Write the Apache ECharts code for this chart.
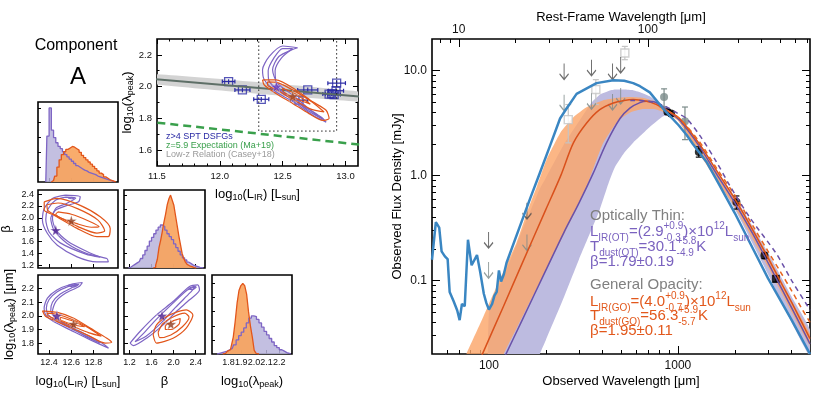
<!DOCTYPE html>
<html>
<head>
<meta charset="utf-8">
<script src="https://cdn.jsdelivr.net/npm/echarts@6/dist/echarts.min.js"></script>
<style>
html, body { margin: 0; padding: 0; background: #fff; }
#chart { width: 826px; height: 394px; }
</style>
</head>
<body>
<div id="chart"></div>
<script>
const FONT = '"Liberation Sans", Arial, sans-serif'
const zSource = 5.93 // 1+z sets the rest-frame axis

// ---- SED panel: observed wavelength [um], flux density [mJy]
const tplWave = [50, 52.4, 54.6, 56.2, 58.5, 60.5, 62, 65, 68, 70, 72, 74.5, 77.5, 81, 86.5, 90, 94, 97, 100, 104, 107, 110, 113, 116, 120, 124, 146, 165, 186, 210, 238, 252, 291, 371, 455, 520, 580, 630, 710, 835, 1012, 1110, 1200, 1418, 1668, 2000, 2500, 3000, 4000, 5000]
const tplFlux = [0.158, 0.36, 0.32, 0.19, 0.17, 0.16, 0.078, 0.064, 0.052, 0.042, 0.06, 0.057, 0.245, 0.14, 0.175, 0.12, 0.075, 0.061, 0.053, 0.06, 0.072, 0.078, 0.125, 0.098, 0.115, 0.148, 0.33, 0.6, 1.06, 1.9, 3.5, 4.1, 6.0, 7.6, 8.1, 8.0, 7.6, 7.1, 6.2, 4.35, 3.0, 2.45, 2.0, 1.35, 0.8, 0.44, 0.2, 0.105, 0.042, 0.02]

const goWave = [88, 93, 120, 150, 200, 240, 280, 329, 386, 455, 520, 580, 682, 760, 835, 900, 1025, 1300, 1600, 2000, 2500, 3000, 3500, 4000, 5000]
const goFlux = [0.016, 0.0205, 0.058, 0.146, 0.474, 1.0, 2.05, 3.17, 4.25, 4.92, 5.2, 5.3, 5.1, 4.8, 4.4, 4.05, 3.47, 2.0, 1.12, 0.6, 0.3, 0.165, 0.097, 0.062, 0.028]
const otWave = [120, 124, 150, 200, 250, 300, 356, 419, 494, 557, 630, 682, 760, 835, 900, 1025, 1300, 1600, 2000, 2500, 3000, 3500, 4000, 5000]
const otFlux = [0.018, 0.0205, 0.042, 0.125, 0.29, 0.55, 1.05, 2.05, 3.5, 4.4, 4.95, 5.1, 5.0, 4.5, 4.05, 3.35, 1.9, 1.04, 0.55, 0.275, 0.148, 0.087, 0.055, 0.025]
const goDashWave = [800, 1000, 1300, 1600, 2000, 2500, 3000, 3500, 4000, 4500, 5000]
const goDashFlux = [4.55, 3.6, 2.1, 1.18, 0.65, 0.33, 0.19, 0.12, 0.08, 0.055, 0.04]
const otDashWave = [560, 700, 850, 1000, 1110, 1308, 1600, 1884, 2400, 3320, 4000, 4860, 5000]
const otDashFlux = [5.2, 5.1, 4.6, 3.9, 3.5, 2.4, 1.35, 0.8, 0.4, 0.18, 0.1, 0.057, 0.052]

const goBandWave = [70, 76, 90, 100, 120, 140, 161, 180, 202, 240, 280, 330, 400, 480, 560, 650, 750, 850, 1000, 1500, 2000, 3000, 4000, 5000]
const goBandHi = [0.014, 0.02, 0.039, 0.06, 0.125, 0.23, 0.474, 0.8, 1.42, 2.6, 3.6, 4.5, 5.2, 5.5, 5.6, 5.5, 5.1, 4.5, 3.65, 1.28, 0.62, 0.175, 0.064, 0.031]
const goBandLo = [0.002, 0.003, 0.005, 0.008, 0.02, 0.035, 0.058, 0.086, 0.13, 0.24, 0.42, 0.8, 2.0, 3.3, 4.0, 4.3, 4.3, 4.0, 3.35, 1.08, 0.5, 0.135, 0.05, 0.024]
const otBandWave = [100, 120, 150, 186, 200, 250, 300, 350, 386, 430, 464, 520, 580, 650, 710, 835, 900, 1000, 1500, 2000, 3000, 4000, 5000]
const otBandHi = [0.05, 0.11, 0.3, 0.75, 0.95, 2.0, 3.3, 5.0, 5.9, 6.4, 6.6, 6.6, 6.5, 6.1, 5.7, 4.7, 4.25, 3.65, 1.3, 0.63, 0.185, 0.07, 0.034]
const otBandLo = [0.001, 0.003, 0.008, 0.02, 0.027, 0.07, 0.16, 0.31, 0.474, 0.85, 1.2, 1.65, 2.06, 2.5, 2.9, 3.67, 3.8, 3.4, 1.1, 0.48, 0.115, 0.04, 0.019]

const ptWave = [880, 920, 1290, 2040, 2870]
const ptFlux = [4.05, 3.9, 1.68, 0.56, 0.173]
const ptLo = [3.85, 3.7, 1.5, 0.48, 0.162]
const ptHi = [4.25, 4.1, 1.88, 0.64, 0.184]
const sqWave = [3300]
const sqFlux = [0.104]
const sqLo = [0.097]
const sqHi = [0.111]
const grayWave = [845, 1090]
const grayFlux = [5.6, 3.29]
const grayLo = [4.5, 2.2]
const grayHi = [6.7, 4.5]
const openWave = [263, 368, 524]
const openFlux = [3.41, 6.6, 14.7]
const openLo = [2.05, 4.75, 12.7]
const openHi = [4.75, 8.2, 17.0]
const limWave = [99.6, 159, 250, 349, 451, 498]
const limDark = [0.29, 0.55, 11.7, 12.7, 11.7, 13.5]
const limGray = [0.15, 0.275, 5.9, 6.1, 6.0, 6.84]

// ---- inset: log LIR vs log lambda_peak
const dsfgLir = [12.07, 12.18, 12.33, 12.63, 12.70, 12.87, 12.89, 12.91, 12.925, 12.93]
const dsfgLam = [2.032, 1.979, 1.92, 1.915, 1.979, 1.953, 1.955, 1.95, 1.974, 2.022]
const dsfgLirErr = [0.05, 0.06, 0.06, 0.07, 0.08, 0.05, 0.05, 0.05, 0.06, 0.07]
const dsfgLamErr = [0.015, 0.015, 0.015, 0.02, 0.015, 0.015, 0.015, 0.015, 0.02, 0.02]
const caseyLir = [11.4, 13.2]
const caseyLam = [2.052, 1.931]
const caseyLo = [2.022, 1.901]
const caseyHi = [2.082, 1.961]
const maLir = [11.4, 13.2]
const maLam = [1.782, 1.627]
const boxLir = [12.31, 12.31, 12.93, 12.93]
const boxLam = [2.31, 1.72, 1.72, 2.31]
const insOt1 = [[12.62, 2.245], [12.5, 2.256], [12.394, 2.19], [12.34, 2.106], [12.354, 2.043], [12.447, 1.968], [12.606, 1.894], [12.74, 1.819], [12.846, 1.776], [12.82, 1.80], [12.71, 1.86], [12.58, 1.947], [12.46, 2.02], [12.42, 2.106], [12.47, 2.19], [12.58, 2.234], [12.62, 2.245]]
const insOt2 = [[12.58, 2.24], [12.5, 2.24], [12.43, 2.18], [12.385, 2.1], [12.39, 2.04], [12.46, 1.98], [12.6, 1.91], [12.74, 1.84], [12.83, 1.79], [12.7, 1.85], [12.57, 1.93], [12.46, 2.0], [12.44, 2.1], [12.49, 2.18], [12.58, 2.24]]
const insGo1 = [[12.34, 2.043], [12.447, 2.043], [12.606, 1.979], [12.74, 1.904], [12.846, 1.851], [12.87, 1.80], [12.82, 1.787], [12.71, 1.83], [12.58, 1.894], [12.447, 1.957], [12.354, 2.01], [12.34, 2.043]]
const insGo2 = [[12.38, 2.03], [12.46, 2.025], [12.6, 1.97], [12.74, 1.9], [12.83, 1.84], [12.72, 1.86], [12.58, 1.92], [12.45, 1.98], [12.38, 2.01], [12.38, 2.03]]
const insGo3 = [[12.5, 1.99], [12.6, 1.955], [12.72, 1.89], [12.62, 1.92], [12.5, 1.975], [12.5, 1.99]]
const insStarOt = [[12.45, 2.0]]
const insStarGo = [[12.58, 1.94]]

// ---- corner plot
const otLirX = [12.37, 12.39, 12.41, 12.43, 12.45, 12.47, 12.49, 12.51, 12.53, 12.55, 12.57, 12.59, 12.61, 12.63, 12.65, 12.67, 12.69, 12.71, 12.73, 12.75, 12.77, 12.79, 12.81, 12.83, 12.85, 12.87, 12.89, 12.91, 12.93, 12.95, 12.97, 12.99]
const otLirN = [0, 0.62, 1.0, 0.7, 0.6, 0.53, 0.48, 0.45, 0.41, 0.37, 0.34, 0.31, 0.28, 0.25, 0.22, 0.2, 0.18, 0.16, 0.15, 0.13, 0.12, 0.11, 0.1, 0.08, 0.07, 0.06, 0.05, 0.04, 0.03, 0.02, 0.01, 0]
const goLirX = [12.42, 12.44, 12.46, 12.48, 12.50, 12.52, 12.54, 12.56, 12.58, 12.60, 12.62, 12.64, 12.66, 12.68, 12.70, 12.72, 12.74, 12.76, 12.78, 12.80, 12.82, 12.84, 12.86, 12.88, 12.90, 12.92, 12.94, 12.96, 12.98, 13.00]
const goLirN = [0, 0.02, 0.08, 0.2, 0.3, 0.37, 0.41, 0.44, 0.46, 0.48, 0.47, 0.45, 0.43, 0.4, 0.36, 0.33, 0.3, 0.27, 0.24, 0.21, 0.18, 0.15, 0.12, 0.1, 0.07, 0.05, 0.03, 0.02, 0.01, 0]
const otBetaX = [1.18, 1.22, 1.26, 1.30, 1.34, 1.38, 1.42, 1.46, 1.50, 1.54, 1.58, 1.62, 1.66, 1.70, 1.74, 1.78, 1.82, 1.86, 1.90, 1.94, 1.98, 2.02, 2.06, 2.10, 2.14, 2.18, 2.22, 2.26, 2.30, 2.34, 2.38, 2.42, 2.46, 2.50, 2.54]
const otBetaN = [0, 0.01, 0.03, 0.05, 0.07, 0.09, 0.13, 0.18, 0.24, 0.3, 0.37, 0.42, 0.47, 0.52, 0.56, 0.59, 0.57, 0.52, 0.47, 0.43, 0.39, 0.33, 0.28, 0.23, 0.18, 0.14, 0.11, 0.08, 0.06, 0.04, 0.03, 0.02, 0.01, 0.005, 0]
const goBetaX = [1.63, 1.66, 1.69, 1.72, 1.75, 1.78, 1.81, 1.84, 1.87, 1.90, 1.93, 1.96, 1.99, 2.02, 2.05, 2.08, 2.11, 2.14, 2.17, 2.20, 2.23, 2.26, 2.29, 2.32, 2.35, 2.38, 2.41]
const goBetaN = [0, 0.01, 0.04, 0.12, 0.28, 0.38, 0.5, 0.63, 0.74, 0.87, 0.95, 1.0, 0.93, 0.86, 0.72, 0.58, 0.44, 0.32, 0.2, 0.13, 0.08, 0.05, 0.03, 0.02, 0.01, 0.005, 0]
const otLamX = [1.71, 1.73, 1.75, 1.77, 1.79, 1.81, 1.83, 1.85, 1.87, 1.89, 1.91, 1.93, 1.95, 1.97, 1.99, 2.01, 2.03, 2.05, 2.07, 2.09, 2.11, 2.13, 2.15, 2.17, 2.19, 2.21, 2.23, 2.25, 2.27, 2.29]
const otLamN = [0, 0.01, 0.02, 0.03, 0.04, 0.06, 0.08, 0.13, 0.2, 0.26, 0.31, 0.37, 0.44, 0.51, 0.54, 0.53, 0.49, 0.44, 0.38, 0.32, 0.27, 0.22, 0.17, 0.12, 0.09, 0.06, 0.04, 0.02, 0.01, 0]
const goLamX = [1.755, 1.77, 1.785, 1.80, 1.815, 1.83, 1.845, 1.86, 1.875, 1.89, 1.905, 1.92, 1.935, 1.95, 1.965, 1.98, 1.995, 2.01, 2.025, 2.04]
const goLamN = [0, 0.01, 0.02, 0.04, 0.06, 0.12, 0.24, 0.46, 0.72, 0.9, 0.97, 1.0, 0.97, 0.85, 0.6, 0.4, 0.24, 0.05, 0.01, 0]

const betaLirOt1 = [[12.548, 2.383], [12.68, 2.355], [12.665, 2.27], [12.563, 2.21], [12.46, 2.13], [12.415, 1.99], [12.444, 1.79], [12.563, 1.564], [12.74, 1.394], [12.92, 1.31], [12.933, 1.253], [12.83, 1.253], [12.652, 1.338], [12.474, 1.536], [12.385, 1.733], [12.34, 1.96], [12.356, 2.157], [12.43, 2.327], [12.548, 2.383]]
const betaLirOt2 = [[12.55, 2.35], [12.64, 2.335], [12.56, 2.245], [12.46, 2.16], [12.43, 1.99], [12.46, 1.8], [12.57, 1.6], [12.74, 1.43], [12.86, 1.335], [12.73, 1.385], [12.5, 1.575], [12.40, 1.76], [12.37, 1.97], [12.39, 2.15], [12.46, 2.3], [12.55, 2.35]]
const betaLirOt3 = [[12.57, 2.335], [12.6, 2.345], [12.63, 2.335], [12.6, 2.322], [12.57, 2.335]]
const betaLirGo1 = [[12.356, 2.27], [12.474, 2.327], [12.68, 2.21], [12.86, 2.016], [12.95, 1.82], [12.933, 1.68], [12.83, 1.68], [12.652, 1.82], [12.444, 2.044], [12.356, 2.13], [12.356, 2.27]]
const betaLirGo2 = [[12.38, 2.22], [12.48, 2.25], [12.66, 2.15], [12.84, 1.96], [12.9, 1.78], [12.83, 1.74], [12.66, 1.85], [12.48, 2.02], [12.39, 2.12], [12.38, 2.22]]
const betaLirGo3 = [[12.48, 2.1], [12.6, 2.06], [12.75, 1.95], [12.85, 1.85], [12.78, 1.84], [12.65, 1.9], [12.5, 2.0], [12.46, 2.06], [12.48, 2.1]]
const lamLirOt1 = [[12.70, 2.245], [12.59, 2.23], [12.47, 2.19], [12.385, 2.13], [12.355, 2.056], [12.37, 2.005], [12.44, 1.958], [12.59, 1.897], [12.74, 1.836], [12.87, 1.787], [12.935, 1.762], [12.875, 1.80], [12.71, 1.873], [12.56, 1.934], [12.46, 1.983], [12.43, 2.03], [12.46, 2.105], [12.55, 2.167], [12.67, 2.215], [12.70, 2.245]]
const lamLirOt2 = [[12.67, 2.232], [12.57, 2.215], [12.47, 2.175], [12.40, 2.12], [12.375, 2.055], [12.39, 2.01], [12.45, 1.97], [12.59, 1.91], [12.74, 1.85], [12.86, 1.80], [12.74, 1.843], [12.58, 1.92], [12.46, 1.982], [12.415, 2.04], [12.43, 2.10], [12.50, 2.16], [12.60, 2.205], [12.67, 2.232]]
const lamLirOt3 = [[12.57, 2.222], [12.62, 2.232], [12.66, 2.226], [12.62, 2.212], [12.57, 2.222]]
const lamLirGo1 = [[12.34, 2.037], [12.474, 2.025], [12.622, 1.983], [12.77, 1.91], [12.92, 1.836], [12.963, 1.806], [12.904, 1.80], [12.756, 1.855], [12.607, 1.909], [12.474, 1.958], [12.37, 1.995], [12.34, 2.037]]
const lamLirGo2 = [[12.38, 2.02], [12.48, 2.01], [12.62, 1.97], [12.76, 1.91], [12.87, 1.85], [12.76, 1.875], [12.61, 1.925], [12.48, 1.97], [12.39, 2.0], [12.38, 2.02]]
const lamLirGo3 = [[12.5, 1.99], [12.62, 1.96], [12.72, 1.92], [12.62, 1.935], [12.5, 1.975], [12.5, 1.99]]
const lamBetaOt1 = [[1.21, 1.80], [1.39, 1.885], [1.69, 2.007], [1.99, 2.105], [2.29, 2.216], [2.44, 2.228], [2.47, 2.19], [2.29, 2.118], [2.05, 2.032], [1.81, 1.934], [1.51, 1.836], [1.27, 1.782], [1.21, 1.80]]
const lamBetaOt2 = [[1.30, 1.81], [1.45, 1.87], [1.7, 1.98], [1.98, 2.09], [2.25, 2.19], [2.4, 2.215], [2.3, 2.17], [2.03, 2.06], [1.78, 1.95], [1.5, 1.85], [1.30, 1.81]]
const lamBetaOt3 = [[2.27, 2.2], [2.36, 2.215], [2.41, 2.21], [2.33, 2.192], [2.27, 2.2]]
const lamBetaGo1 = [[1.63, 1.86], [1.69, 1.934], [1.93, 2.007], [2.23, 2.044], [2.35, 2.007], [2.23, 1.91], [1.99, 1.836], [1.69, 1.80], [1.63, 1.86]]
const lamBetaGo2 = [[1.72, 1.88], [1.8, 1.94], [1.98, 1.99], [2.2, 2.02], [2.28, 1.99], [2.16, 1.92], [1.95, 1.86], [1.75, 1.84], [1.72, 1.88]]
const lamBetaGo3 = [[1.85, 1.93], [2.0, 1.965], [2.12, 1.98], [2.1, 1.94], [1.95, 1.9], [1.85, 1.9], [1.85, 1.93]]
const starBetaLir = { ot: [[12.46, 1.79]], go: [[12.60, 1.95]] }
const starLamLir = { ot: [[12.47, 2.0]], go: [[12.62, 1.94]] }
const starLamBeta = { ot: [[1.79, 2.0]], go: [[1.95, 1.94]] }

// ---- colours
const C = {
  blue: '#3a86c2', goLine: '#d9511c', otLine: '#6a51a8',
  goFill: '#fba66a', otFill: '#bdbbe0',
  goCont: '#e2561b', otCont: '#7e65c4',
  goHist: '#f8a35c', otHist: '#b9b4dc',
  txtGray: '#808080', txtOt: '#7a62bf', txtGo: '#e2581c',
  navy: '#2a2aa5'
}
const STAR = 'path://M50,0 L61,35 L98,35 L68,57 L79,91 L50,70 L21,91 L32,57 L2,35 L39,35 Z'
const ARROW = 'path://M5,0 L5,20 M0.5,13 L5,20 L9.5,13'

const zip = (a, b) => a.map((v, i) => [v, b[i]])
const f1 = v => v.toFixed(1)

const RICH_AX = {
  n: { fontSize: 13, fontFamily: FONT, color: '#000', lineHeight: 16 },
  s: { fontSize: 9, fontFamily: FONT, color: '#000', lineHeight: 9, verticalAlign: 'bottom' }
}
function axis(o) {
  const a = {
    type: o.type || 'value', gridIndex: o.grid, position: o.pos, min: o.min, max: o.max,
    axisLine: { show: false }, splitLine: { show: false },
    axisTick: o.ticks ? { show: true, inside: true, length: o.len || 4, customValues: o.ticks, lineStyle: { color: '#000', width: 1 } } : { show: false },
    axisLabel: o.labels ? { show: true, customValues: o.labels, formatter: o.fmt || f1, fontSize: o.fs || 9, fontFamily: FONT, color: '#111', margin: o.margin || 4 } : { show: false }
  }
  if (a.type === 'log') a.logBase = 10
  if (o.name) {
    a.name = o.name
    a.nameLocation = 'middle'
    a.nameGap = o.gap
    a.nameMoveOverlap = false
    a.nameTextStyle = { fontSize: 13, fontFamily: FONT, color: '#000', rich: RICH_AX }
  }
  return a
}
const lirName = '{n|log}{s|10}{n|(L}{s|IR}{n|) [L}{s|sun}{n|]}'
const lamName = '{n|log}{s|10}{n|(λ}{s|peak}{n|)}'
const lamUmName = '{n|log}{s|10}{n|(λ}{s|peak}{n|) [μm]}'

function line(xi, yi, xs, ys, color, width, extra) {
  return Object.assign({ type: 'line', xAxisIndex: xi, yAxisIndex: yi, data: zip(xs, ys), symbol: 'none', showSymbol: false, silent: true, lineStyle: { color, width } }, extra || {})
}
function contour(xi, yi, pts, color) {
  return { type: 'line', xAxisIndex: xi, yAxisIndex: yi, data: pts, symbol: 'none', showSymbol: false, silent: true, smooth: 0.25, lineStyle: { color, width: 1.2 } }
}
function band(xi, yi, xs, lo, hi, color, opacity) {
  return {
    type: 'custom', xAxisIndex: xi, yAxisIndex: yi, clip: true, silent: true, data: [[xs[0], hi[0]]],
    renderItem(params, api) {
      const top = xs.map((x, i) => api.coord([x, hi[i]]))
      const bot = xs.map((x, i) => api.coord([x, lo[i]])).reverse()
      return { type: 'polygon', shape: { points: top.concat(bot), smooth: 0.15 }, style: { fill: color, opacity } }
    }
  }
}
function errBars(xi, yi, xs, lo, hi, color, cap) {
  return {
    type: 'custom', xAxisIndex: xi, yAxisIndex: yi, silent: true, data: xs.map((x, i) => [x, lo[i], hi[i]]),
    renderItem(params, api) {
      const a = api.coord([api.value(0), api.value(1)])
      const b = api.coord([api.value(0), api.value(2)])
      const st = { stroke: color, lineWidth: 1.2 }
      return { type: 'group', children: [
        { type: 'line', shape: { x1: a[0], y1: a[1], x2: b[0], y2: b[1] }, style: st },
        { type: 'line', shape: { x1: a[0] - cap, y1: a[1], x2: a[0] + cap, y2: a[1] }, style: st },
        { type: 'line', shape: { x1: b[0] - cap, y1: b[1], x2: b[0] + cap, y2: b[1] }, style: st }
      ] }
    }
  }
}
function xyErr(xi, yi, xs, ys, xe, ye, color) {
  return {
    type: 'custom', xAxisIndex: xi, yAxisIndex: yi, silent: true, clip: true, data: xs.map((x, i) => [x, ys[i], xe[i], ye[i]]),
    renderItem(params, api) {
      const x = api.value(0), y = api.value(1), dx = api.value(2), dy = api.value(3)
      const l = api.coord([x - dx, y]), r = api.coord([x + dx, y])
      const t = api.coord([x, y + dy]), b = api.coord([x, y - dy])
      const st = { stroke: color, lineWidth: 1.2 }
      return { type: 'group', children: [
        { type: 'line', shape: { x1: l[0], y1: l[1], x2: r[0], y2: r[1] }, style: st },
        { type: 'line', shape: { x1: l[0], y1: l[1] - 2, x2: l[0], y2: l[1] + 2 }, style: st },
        { type: 'line', shape: { x1: r[0], y1: r[1] - 2, x2: r[0], y2: r[1] + 2 }, style: st },
        { type: 'line', shape: { x1: t[0], y1: t[1], x2: b[0], y2: b[1] }, style: st }
      ] }
    }
  }
}
function scatter(xi, yi, data, symbol, size, itemStyle, extra) {
  return Object.assign({ type: 'scatter', xAxisIndex: xi, yAxisIndex: yi, data, symbol, symbolSize: size, silent: true, itemStyle }, extra || {})
}
function histArea(xi, yi, xs, ns, fill, op) {
  return { type: 'line', xAxisIndex: xi, yAxisIndex: yi, step: 'middle', data: zip(xs, ns), symbol: 'none', silent: true, lineStyle: { width: 0 }, areaStyle: { color: fill, opacity: op } }
}
function histLine(xi, yi, xs, ns, color) {
  return { type: 'line', xAxisIndex: xi, yAxisIndex: yi, step: 'middle', data: zip(xs, ns), symbol: 'none', silent: true, lineStyle: { color, width: 1.3 } }
}
function stars(xi, yi, s, size, otColor, goColor) {
  return [
    scatter(xi, yi, s.ot, STAR, size, { color: otColor, borderColor: '#fff', borderWidth: 0.4 }, { z: 5 }),
    scatter(xi, yi, s.go, STAR, size, { color: goColor, borderColor: '#fff', borderWidth: 0.4 }, { z: 5 })
  ]
}

const gridBase = { show: true, borderColor: '#000', borderWidth: 1.6, backgroundColor: 'transparent', containLabel: false, outerBoundsMode: 'none' }
const grids = [
  { left: 432, top: 39, width: 378, height: 315 },
  { left: 157, top: 39, width: 201, height: 127 },
  { left: 38, top: 102, width: 80, height: 80 },
  { left: 38, top: 190, width: 80, height: 78 },
  { left: 124, top: 190, width: 81, height: 78 },
  { left: 38, top: 275, width: 80, height: 79 },
  { left: 124, top: 275, width: 81, height: 79 },
  { left: 212, top: 275, width: 80, height: 79 }
].map(g => Object.assign({}, gridBase, g))

const obsMin = 50, obsMax = 5000
const xMinor = [60, 70, 80, 90, 200, 300, 400, 500, 600, 700, 800, 900, 2000, 3000, 4000]
const restMinor = [8, 9, 20, 30, 40, 50, 60, 70, 80, 90, 200, 300, 400, 500, 600, 700]
const yMinor = [0.03, 0.04, 0.05, 0.06, 0.07, 0.08, 0.09, 0.2, 0.3, 0.4, 0.5, 0.6, 0.7, 0.8, 0.9, 2, 3, 4, 5, 6, 7, 8, 9]
const insXMinor = [11.6, 11.7, 11.8, 11.9, 12.1, 12.2, 12.3, 12.4, 12.6, 12.7, 12.8, 12.9]
const lirTicks = [12.4, 12.6, 12.8]
const betaTicksX = [1.2, 1.6, 2.0, 2.4]
const lamTicks = [1.8, 1.9, 2.0, 2.1, 2.2]
const betaTicksY = [1.2, 1.4, 1.6, 1.8, 2.0, 2.2, 2.4]
const histTicks = [0.2, 0.4, 0.6, 0.8, 1.0]

const xAxes = [
  axis({ grid: 0, pos: 'bottom', type: 'log', min: obsMin, max: obsMax, ticks: [100, 1000], len: 8, labels: [100, 1000], fmt: v => String(v), fs: 12, margin: 6, name: 'Observed Wavelength [μm]', gap: 21 }),
  axis({ grid: 0, pos: 'bottom', type: 'log', min: obsMin, max: obsMax, ticks: xMinor, len: 4 }),
  axis({ grid: 0, pos: 'top', type: 'log', min: obsMin / (1 + zSource), max: obsMax / (1 + zSource), ticks: [10, 100], len: 8, labels: [10, 100], fmt: v => String(v), fs: 12, margin: 3, name: 'Rest-Frame Wavelength [μm]', gap: 15 }),
  axis({ grid: 0, pos: 'top', type: 'log', min: obsMin / (1 + zSource), max: obsMax / (1 + zSource), ticks: restMinor, len: 4 }),
  axis({ grid: 1, pos: 'bottom', min: 11.5, max: 13.1, ticks: [11.5, 12.0, 12.5, 13.0], len: 5, labels: [11.5, 12.0, 12.5, 13.0], fs: 9.5, margin: 5, name: lirName, gap: 20 }),
  axis({ grid: 1, pos: 'bottom', min: 11.5, max: 13.1, ticks: insXMinor, len: 2.5 }),
  axis({ grid: 1, pos: 'top', min: 11.5, max: 13.1, ticks: [11.5, 12.0, 12.5, 13.0], len: 5 }),
  axis({ grid: 1, pos: 'top', min: 11.5, max: 13.1, ticks: insXMinor, len: 2.5 }),
  axis({ grid: 2, pos: 'bottom', min: 12.3, max: 13.02, ticks: lirTicks }),
  axis({ grid: 3, pos: 'bottom', min: 12.3, max: 13.02, ticks: lirTicks }),
  axis({ grid: 4, pos: 'bottom', min: 1.1, max: 2.57, ticks: betaTicksX }),
  axis({ grid: 5, pos: 'bottom', min: 12.3, max: 13.02, ticks: lirTicks, labels: lirTicks, name: lirName, gap: 19 }),
  axis({ grid: 6, pos: 'bottom', min: 1.1, max: 2.57, ticks: betaTicksX, labels: betaTicksX, name: '{n|β}', gap: 19 }),
  axis({ grid: 7, pos: 'bottom', min: 1.67, max: 2.30, ticks: lamTicks, labels: lamTicks, name: lamName, gap: 19 })
]
const yAxes = [
  axis({ grid: 0, pos: 'left', type: 'log', min: 0.02, max: 20, ticks: [0.1, 1, 10], len: 8, labels: [0.1, 1, 10], fs: 12, margin: 5, name: 'Observed Flux Density [mJy]', gap: 28 }),
  axis({ grid: 0, pos: 'left', type: 'log', min: 0.02, max: 20, ticks: yMinor, len: 4 }),
  axis({ grid: 0, pos: 'right', type: 'log', min: 0.02, max: 20, ticks: [0.1, 1, 10], len: 8 }),
  axis({ grid: 0, pos: 'right', type: 'log', min: 0.02, max: 20, ticks: yMinor, len: 4 }),
  axis({ grid: 1, pos: 'left', min: 1.5, max: 2.3, ticks: [1.6, 1.8, 2.0, 2.2], len: 5, labels: [1.6, 1.8, 2.0, 2.2], fs: 9.5, margin: 5, name: lamName, gap: 22 }),
  axis({ grid: 1, pos: 'left', min: 1.5, max: 2.3, ticks: [1.7, 1.9, 2.1], len: 2.5 }),
  axis({ grid: 1, pos: 'right', min: 1.5, max: 2.3, ticks: [1.6, 1.8, 2.0, 2.2], len: 5 }),
  axis({ grid: 1, pos: 'right', min: 1.5, max: 2.3, ticks: [1.7, 1.9, 2.1], len: 2.5 }),
  axis({ grid: 2, pos: 'left', min: 0, max: 1.08, ticks: histTicks, len: 3 }),
  axis({ grid: 3, pos: 'left', min: 1.15, max: 2.47, ticks: betaTicksY, labels: betaTicksY, name: '{n|β}', gap: 24 }),
  axis({ grid: 4, pos: 'left', min: 0, max: 1.07, ticks: histTicks, len: 3 }),
  axis({ grid: 5, pos: 'left', min: 1.72, max: 2.30, ticks: lamTicks, labels: lamTicks, name: lamUmName, gap: 21 }),
  axis({ grid: 6, pos: 'left', min: 1.72, max: 2.30, ticks: lamTicks }),
  axis({ grid: 7, pos: 'left', min: 0, max: 1.12, ticks: histTicks, len: 3 })
]

const series = [
  // SED panel
  band(0, 0, otBandWave, otBandLo, otBandHi, C.otFill, 1),
  band(0, 0, goBandWave, goBandLo, goBandHi, C.goFill, 0.82),
  line(0, 0, otWave, otFlux, C.otLine, 1.5, { smooth: 0.3 }),
  line(0, 0, goWave, goFlux, C.goLine, 1.5, { smooth: 0.3 }),
  line(0, 0, goDashWave, goDashFlux, '#e8651f', 1.5, { smooth: 0.3, lineStyle: { color: '#e8651f', width: 1.5, type: [5, 4] } }),
  line(0, 0, otDashWave, otDashFlux, C.otLine, 1.5, { smooth: 0.3, lineStyle: { color: C.otLine, width: 1.5, type: [5, 4] } }),
  line(0, 0, tplWave, tplFlux, C.blue, 2.5),
  errBars(0, 0, openWave, openLo, openHi, '#c4c4c4', 3),
  errBars(0, 0, grayWave, grayLo, grayHi, '#7b8b89', 3),
  errBars(0, 0, ptWave, ptLo, ptHi, '#000', 3),
  errBars(0, 0, sqWave, sqLo, sqHi, '#000', 3),
  scatter(0, 0, zip(openWave, openFlux), 'rect', 8, { color: '#fff', borderColor: '#c4c4c4', borderWidth: 1.4 }),
  scatter(0, 0, zip(grayWave, grayFlux), 'circle', 8, { color: '#7b8b89' }),
  scatter(0, 0, zip(ptWave, ptFlux), 'circle', 8, { color: '#000' }),
  scatter(0, 0, zip(sqWave, sqFlux), 'rect', 8, { color: '#000' }),
  scatter(0, 0, zip(limWave, limDark), ARROW, [9, 16], { color: 'transparent', borderColor: '#4a4a4a', borderWidth: 1.3 }, { symbolOffset: [0, 8] }),
  scatter(0, 0, zip(limWave, limGray), ARROW, [9, 16], { color: 'transparent', borderColor: '#7d8a88', borderWidth: 1.3 }, { symbolOffset: [0, 8] }),

  // inset
  band(4, 4, caseyLir, caseyLo, caseyHi, '#d3d3d3', 1),
  line(4, 4, caseyLir, caseyLam, '#5e6f67', 2),
  line(4, 4, maLir, maLam, '#3aa04c', 2.5, { lineStyle: { color: '#3aa04c', width: 2.5, type: [8, 5] } }),
  line(4, 4, boxLir, boxLam, '#222', 1, { lineStyle: { color: '#222', width: 1, type: [1.5, 2.5] } }),
  contour(4, 4, insOt1, C.otCont),
  contour(4, 4, insOt2, C.otCont),
  contour(4, 4, insGo1, C.goCont),
  contour(4, 4, insGo2, C.goCont),
  contour(4, 4, insGo3, C.goCont),
  xyErr(4, 4, dsfgLir, dsfgLam, dsfgLirErr, dsfgLamErr, C.navy),
  scatter(4, 4, zip(dsfgLir, dsfgLam), 'rect', 8, { color: 'transparent', borderColor: C.navy, borderWidth: 1.3 }),
  ...stars(4, 4, { ot: insStarOt, go: insStarGo }, 12, '#6b3fc0', '#a34a1f'),

  // corner: histograms
  histArea(8, 8, otLirX, otLirN, C.otHist, 0.85),
  histArea(8, 8, goLirX, goLirN, C.goHist, 0.9),
  histLine(8, 8, otLirX, otLirN, C.otCont),
  histLine(8, 8, goLirX, goLirN, C.goCont),
  histArea(10, 10, otBetaX, otBetaN, C.otHist, 0.85),
  histArea(10, 10, goBetaX, goBetaN, C.goHist, 0.9),
  histLine(10, 10, otBetaX, otBetaN, C.otCont),
  histLine(10, 10, goBetaX, goBetaN, C.goCont),
  histArea(13, 13, otLamX, otLamN, C.otHist, 0.85),
  histArea(13, 13, goLamX, goLamN, C.goHist, 0.9),
  histLine(13, 13, otLamX, otLamN, C.otCont),
  histLine(13, 13, goLamX, goLamN, C.goCont),

  // corner: contours
  contour(9, 9, betaLirOt1, C.otCont), contour(9, 9, betaLirOt2, C.otCont), contour(9, 9, betaLirOt3, C.otCont),
  contour(9, 9, betaLirGo1, C.goCont), contour(9, 9, betaLirGo2, C.goCont), contour(9, 9, betaLirGo3, C.goCont),
  contour(11, 11, lamLirOt1, C.otCont), contour(11, 11, lamLirOt2, C.otCont), contour(11, 11, lamLirOt3, C.otCont),
  contour(11, 11, lamLirGo1, C.goCont), contour(11, 11, lamLirGo2, C.goCont), contour(11, 11, lamLirGo3, C.goCont),
  contour(12, 12, lamBetaOt1, C.otCont), contour(12, 12, lamBetaOt2, C.otCont), contour(12, 12, lamBetaOt3, C.otCont),
  contour(12, 12, lamBetaGo1, C.goCont), contour(12, 12, lamBetaGo2, C.goCont), contour(12, 12, lamBetaGo3, C.goCont),
  ...stars(9, 9, starBetaLir, 11, '#4b1d8f', '#8e3b1c'),
  ...stars(11, 11, starLamLir, 11, '#4b1d8f', '#8e3b1c'),
  ...stars(12, 12, starLamBeta, 11, '#4b1d8f', '#8e3b1c')
]

// text block in the SED panel
function richTxt(color) {
  return {
    m: { fontSize: 15, fontFamily: FONT, fill: color, lineHeight: 22 },
    sb: { fontSize: 10, fontFamily: FONT, fill: color, lineHeight: 10, verticalAlign: 'bottom' },
    sb0: { fontSize: 10, fontFamily: FONT, fill: color, lineHeight: 10, verticalAlign: 'bottom', width: 0 },
    sp: { fontSize: 10, fontFamily: FONT, fill: color, lineHeight: 10, verticalAlign: 'top' }
  }
}
function txt(x, y, text, color, rich, size) {
  return { type: 'text', x, y, z: 100, silent: true, style: { text, rich, fill: color, fontSize: size || 15, fontFamily: FONT, align: 'left', verticalAlign: 'middle' } }
}
const rOt = richTxt(C.txtOt), rGo = richTxt(C.txtGo)
const graphics = [
  txt(590, 216, 'Optically Thin:', C.txtGray),
  txt(590, 232, '{m|L}{sb|IR(OT)}{m|=(2.9}{sb0|-0.3}{sp|+0.9}{m|)×10}{sp|12}{m|L}{sb|sun}', C.txtOt, rOt),
  txt(590, 247, '{m|T}{sb|dust(OT)}{m|=30.1}{sb0|-4.9}{sp|+5.8}{m|K}', C.txtOt, rOt),
  txt(590, 262, 'β=1.79±0.19', C.txtOt),
  txt(590, 285, 'General Opacity:', C.txtGray),
  txt(590, 302, '{m|L}{sb|IR(GO)}{m|=(4.0}{sb0|-0.7}{sp|+0.9}{m|)×10}{sp|12}{m|L}{sb|sun}', C.txtGo, rGo),
  txt(590, 316, '{m|T}{sb|dust(GO)}{m|=56.3}{sb0|-5.7}{sp|+5.9}{m|K}', C.txtGo, rGo),
  txt(590, 331, 'β=1.95±0.11', C.txtGo),
  txt(166, 137, 'z>4 SPT DSFGs', C.navy, null, 9),
  txt(166, 146, 'z=5.9 Expectation (Ma+19)', '#3aa04c', null, 9),
  txt(166, 155, 'Low-z Relation (Casey+18)', '#9a9a9a', null, 9),
  { type: 'text', x: 76, y: 46, z: 100, style: { text: 'Component', fill: '#000', fontSize: 16, fontFamily: FONT, align: 'center', verticalAlign: 'middle' } },
  { type: 'text', x: 78, y: 77, z: 100, style: { text: 'A', fill: '#000', fontSize: 24, fontFamily: FONT, align: 'center', verticalAlign: 'middle' } }
]

const chart = echarts.init(document.getElementById('chart'), null, { renderer: 'canvas' })
chart.setOption({
  animation: false,
  backgroundColor: '#fff',
  textStyle: { fontFamily: FONT },
  grid: grids,
  xAxis: xAxes,
  yAxis: yAxes,
  series,
  graphic: graphics
})
</script>
</body>
</html>
